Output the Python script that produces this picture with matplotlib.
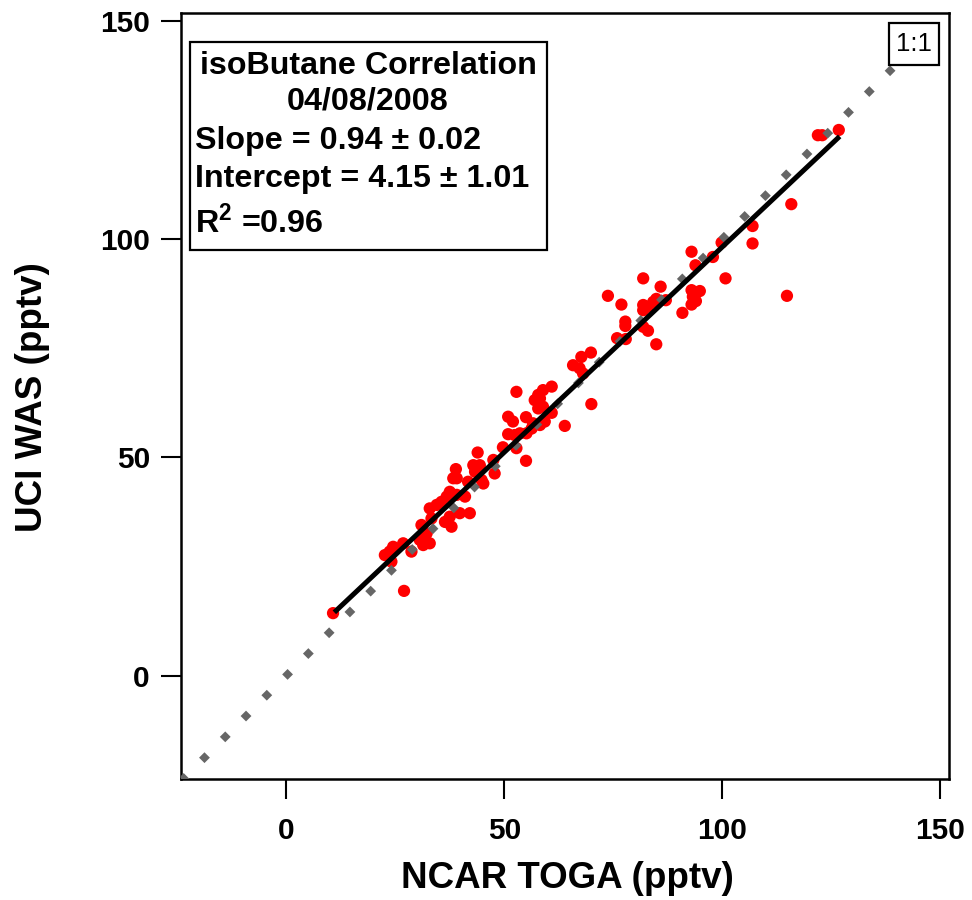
import matplotlib
matplotlib.use('Agg')
import matplotlib.pyplot as plt
from matplotlib.patches import Rectangle

# NCAR TOGA (x) vs UCI WAS (y), pptv
toga = [10.7, 27.0, 22.6, 23.7, 24.5, 26.8, 28.7, 24.1,
        30.6, 31.4, 32.9, 32.2, 31.0, 33.3, 32.9, 34.5, 35.6,
        36.4, 37.9, 37.5, 39.8, 42.1, 36.8, 37.5, 39.1, 41.0,
        38.3, 39.1, 38.9, 41.7, 42.9, 44.4, 43.3, 44.8, 45.2,
        43.9, 47.8, 47.5, 49.7, 52.8, 55.0,
        50.9, 52.4, 53.6, 55.1, 56.3, 50.9, 52.0, 55.0, 52.8,
        56.6, 58.2, 59.3, 60.9, 57.8, 58.9,
        57.0, 58.2, 57.8, 58.9, 60.9, 63.9, 70.0,
        65.8, 67.3, 68.1, 67.7, 69.9,
        73.8, 76.9, 75.9, 77.9, 77.8, 77.8,
        81.9, 81.9, 83.0, 84.2, 84.9, 81.9, 81.9, 83.0, 84.9, 85.9, 87.1, 90.9,
        93.0, 93.9, 93.0, 94.9, 93.3, 94.0, 93.0,
        97.9, 100.8, 99.9, 107.0, 107.0, 114.9, 115.9, 122.0, 123.0, 126.8]
was = [14.3, 19.4, 27.6, 28.4, 29.5, 30.3, 28.4, 26.1,
       31.1, 29.9, 30.3, 32.6, 34.5, 36.0, 38.3, 39.1, 39.8,
       35.2, 34.1, 36.4, 37.2, 37.2, 41.0, 42.1, 41.4, 41.0,
       45.2, 45.2, 47.3, 44.4, 48.2, 48.2, 46.7, 44.8, 44.0,
       51.1, 46.3, 49.4, 52.3, 52.1, 49.2,
       55.3, 55.1, 55.5, 55.5, 56.6, 59.3, 58.2, 59.2, 65.0,
       57.8, 57.4, 58.2, 60.2, 61.2, 61.6,
       63.1, 63.5, 64.3, 65.4, 66.2, 57.2, 62.2,
       71.1, 70.4, 69.2, 73.0, 74.0,
       87.0, 85.0, 77.3, 77.1, 81.1, 80.1,
       91.0, 84.9, 84.5, 85.6, 86.3, 83.7, 79.9, 79.0, 75.9, 89.1, 86.0, 83.1,
       97.1, 94.0, 88.3, 88.1, 86.8, 85.8, 85.0,
       95.9, 91.0, 99.2, 103.0, 99.0, 87.0, 108.0, 123.8, 123.8, 125.0]

slope = 0.94
intercept = 4.15
fit_range = [11, 127]
one_to_one = [-24.2, 140]

W, H = 972, 900
plt.rcParams['font.family'] = ['Liberation Sans', 'DejaVu Sans']
plt.rcParams['mathtext.fontset'] = 'custom'
plt.rcParams['mathtext.bf'] = 'Liberation Sans:bold'
plt.rcParams['mathtext.rm'] = 'Liberation Sans'

fig = plt.figure(figsize=(W / 100, H / 100), dpi=100)
ax = fig.add_axes([181 / W, 1 - 779 / H, (949 - 181) / W, (779 - 13) / H])

ax.scatter(toga, was, s=78, color='#ff0000', edgecolors='none', zorder=2)
ax.plot(one_to_one, one_to_one, color='#666666', lw=5.5,
        linestyle=(0, (1, 2.85)), zorder=3)
ax.plot(fit_range, [intercept + slope * v for v in fit_range],
        color='black', lw=3.6, solid_capstyle='butt', zorder=4)

ax.set_xlim(-24.2, 152.1)
ax.set_ylim(-23.7, 151.8)
ax.set_xticks([0, 50, 100, 150])
ax.set_yticks([0, 50, 100, 150])
ax.tick_params(direction='out', length=14.4, width=1.5, labelsize=21.5)
ax.tick_params(axis='x', pad=13)
ax.tick_params(axis='y', pad=8)
for lab in ax.get_xticklabels() + ax.get_yticklabels():
    lab.set_fontweight('bold')
for sp in ax.spines.values():
    sp.set_linewidth(1.8)

fig.text(567 / W, 1 - 878 / H, 'NCAR TOGA (pptv)', ha='center', va='center',
         fontsize=26.5, fontweight='bold')
fig.text(32 / W, 1 - 397 / H, 'UCI WAS (pptv)', ha='center', va='center',
         fontsize=26.5, fontweight='bold', rotation=90)

# stats box
fig.patches.append(Rectangle((190 / W, 1 - 249.5 / H), (546.5 - 190) / W, (249.5 - 41.5) / H,
                             transform=fig.transFigure, fill=True, facecolor='white',
                             edgecolor='black', lw=1.6, zorder=5))
cx = 368 / W
fs = 23.2
fig.text(cx, 1 - 66 / H, 'isoButane Correlation', ha='center', va='center',
         fontsize=fs, fontweight='bold', zorder=6)
fig.text(cx, 1 - 102 / H, '04/08/2008', ha='center', va='center',
         fontsize=fs, fontweight='bold', zorder=6)
fig.text(195 / W, 1 - 141 / H, 'Slope = 0.94 \u00b1 0.02', ha='left', va='center',
         fontsize=fs, fontweight='bold', zorder=6)
fig.text(195 / W, 1 - 179 / H, 'Intercept = 4.15 \u00b1 1.01', ha='left', va='center',
         fontsize=fs, fontweight='bold', zorder=6)
fig.text(195 / W, 1 - 223 / H, r'R$^{\mathbf{2}}$ =0.96', ha='left', va='center',
         fontsize=fs, fontweight='bold', zorder=6)

# 1:1 label
fig.patches.append(Rectangle((888.5 / W, 1 - 65 / H), 50 / W, 42 / H,
                             transform=fig.transFigure, facecolor='white',
                             edgecolor='black', lw=1.6, zorder=5))
fig.text(913.5 / W, 1 - 44 / H, '1:1', ha='center', va='center', fontsize=18.5, zorder=6)

fig.savefig('out.png', dpi=100, facecolor='white')
